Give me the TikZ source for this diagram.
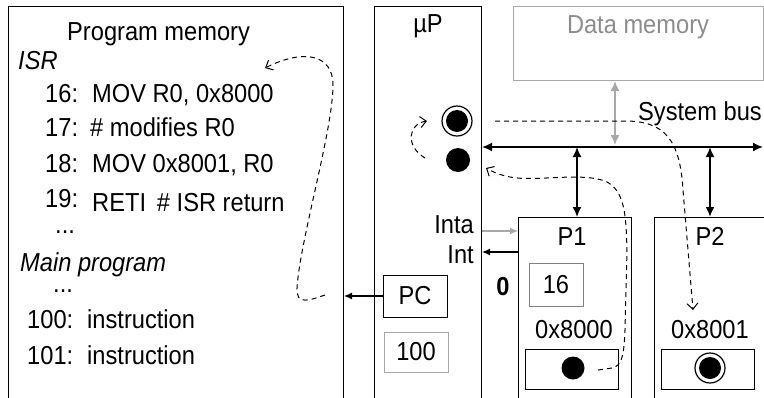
\documentclass[tikz,border=0pt]{standalone}
\usepackage{fontspec}
\setmainfont{Liberation Sans}[FakeStretch=0.91]
\usetikzlibrary{arrows.meta}
\definecolor{lgray}{HTML}{A8A8A8}
\definecolor{mgray}{HTML}{808080}
\definecolor{tgray}{HTML}{8C8C8C}
\tikzset{
  txt/.style={inner sep=0pt, font=\fontsize{26}{30}\selectfont},
  box/.style={draw, line width=1pt, inner sep=0pt, font=\fontsize{26}{30}\selectfont},
  dsh/.style={dash pattern=on 5pt off 4pt, line width=1pt},
  oarrow/.style={-{Straight Barb[length=6pt,width=11pt]}},
  fhead/.tip={Latex[length=10pt,width=9pt]},
  shead/.tip={Latex[length=8pt,width=7pt]}
}
\begin{document}
\begin{tikzpicture}[x=1pt,y=-1pt]
\useasboundingbox (0,0) rectangle (764,397);
\clip (0,0) rectangle (764,397);

% big boxes
\node[box, anchor=north west, minimum width=335pt, minimum height=420pt] (pm) at (8,6) {};
\node[box, anchor=north west, minimum width=107pt, minimum height=420pt] (up) at (374,6) {};
\node[box, draw=lgray, anchor=north west, minimum width=250pt, minimum height=74pt] (dm) at (513,6) {};
\node[box, anchor=north west, minimum width=113pt, minimum height=220pt] (p1) at (518,217) {};
\node[box, anchor=north west, minimum width=150pt, minimum height=220pt] (p2) at (654,217) {};

% small boxes
\node[box, draw=mgray, minimum width=54pt, minimum height=43pt] (b16) at (556,284.5) {16};
\node[box, minimum width=64pt, minimum height=42pt] (pc) at (415,296) {PC};
\node[box, draw=lgray, minimum width=64pt, minimum height=40pt] (b100) at (416,352) {100};
\node[box, minimum width=93pt, minimum height=40pt] (in1) at (571.5,369) {};
\node[box, minimum width=93pt, minimum height=40pt] (in2) at (707.5,369) {};

% dots
\node[circle, fill=black, inner sep=0pt, minimum size=23pt] (dot1) at (573,368) {};
\node[circle, draw, line width=1.2pt, inner sep=0pt, minimum size=30pt] (ring2) at (710,368) {};
\node[circle, fill=black, inner sep=0pt, minimum size=22pt] (dot2) at (710,368) {};
\node[circle, draw, line width=1.2pt, inner sep=0pt, minimum size=30pt] (ringP) at (457,121) {};
\node[circle, fill=black, inner sep=0pt, minimum size=22pt] (dotPa) at (457,121) {};
\node[circle, fill=black, inner sep=0pt, minimum size=24pt] (dotP) at (458,160) {};

% texts
\node[txt, anchor=base west] (tpm) at (67,40) {Program memory};
\node[txt, anchor=base west, font=\fontsize{26}{30}\selectfont\itshape] (tisr) at (18,69) {ISR};
\node[txt, anchor=base west] (n16) at (45,102) {16:};
\node[txt, anchor=base west] (i16) at (92,102) {MOV R0, 0x8000};
\node[txt, anchor=base west] (n17) at (45,136) {17:};
\node[txt, anchor=base west] (i17) at (90,136) {\# modifies R0};
\node[txt, anchor=base west] (n18) at (45,172) {18:};
\node[txt, anchor=base west] (i18) at (92,172) {MOV 0x8001, R0};
\node[txt, anchor=base west] (n19) at (45,207) {19:};
\node[txt, anchor=base west] (i19) at (92,211) {RETI\, \# ISR return};
\node[txt, anchor=base west] (d1) at (55,233) {...};
\node[txt, anchor=base west, font=\fontsize{26}{30}\selectfont\itshape] (tmain) at (20,271) {Main program};
\node[txt, anchor=base west] (d2) at (53,292) {...};
\node[txt, anchor=base west] (n100) at (27,328) {100:};
\node[txt, anchor=base west] (i100) at (87,328) {instruction};
\node[txt, anchor=base west] (n101) at (27,364) {101:};
\node[txt, anchor=base west] (i101) at (87,364) {instruction};

\node[txt, anchor=base] (tup) at (428,32) {µP};
\node[txt, anchor=base, text=tgray] (tdm) at (638,33) {Data memory};
\node[txt, anchor=base west] (tbus) at (638,120) {System bus};
\node[txt, anchor=base east] (tinta) at (474,233) {Inta};
\node[txt, anchor=base east] (tint) at (474,263) {Int};
\node[txt, anchor=base, font=\fontsize{26}{30}\selectfont\bfseries] (tzero) at (503,295) {0};
\node[txt, anchor=base] (tp1) at (572,245) {P1};
\node[txt, anchor=base] (tp2) at (710,245) {P2};
\node[txt, anchor=base] (ta1) at (574,338) {0x8000};
\node[txt, anchor=base] (ta2) at (710,338) {0x8001};

% bus
\coordinate (busY) at (0,147);
\coordinate (busR) at (763,147);
\coordinate (b1) at (577,147);
\coordinate (b2) at (710,147);
\coordinate (bm) at (615,145);
\draw[line width=1.6pt, fhead-fhead] (up.east |- busY) -- (busR);
\draw[line width=1.6pt, fhead-fhead] (b1) -- (b1 |- p1.north);
\draw[line width=2.4pt, fhead-fhead] (b2) -- (b2 |- p2.north);
\draw[lgray, line width=1.4pt, fhead-fhead] (bm |- dm.south) -- (bm);

% interrupt lines
\coordinate (yInta) at (0,231);
\coordinate (yInt) at (0,252);
\draw[lgray, line width=1.2pt, -shead] (up.east |- yInta) -- (p1.west |- yInta);
\draw[line width=1.2pt, -shead] (p1.west |- yInt) -- (up.east |- yInt);
\draw[line width=1.2pt, -shead] (pc.west) -- (pc.west -| pm.east);

% dashed curves
\coordinate (c1s) at (325,295);
\coordinate (c1e) at (265,68);
\draw[dsh, oarrow] (c1s) .. controls (310,300) and (296,306) .. (297,288)
   .. controls (300,240) and (333,130) .. (333,85)
   .. controls (333,55) and (305,48) .. (c1e);

\coordinate (c2s) at (425,158);
\coordinate (c2e) at (427,121);
\draw[dsh, oarrow] (c2s) .. controls (405,146) and (408,124) .. (c2e);

\coordinate (c3s) at (495,121);
\coordinate (c3e) at (693,310);
\draw[dsh, oarrow] (c3s) -- (625,121) .. controls (665,121) and (680,140) .. (683,190) -- (c3e);

\coordinate (c4s) at (598,370);
\coordinate (c4e) at (486,168);
\draw[dsh, oarrow] (c4s) -- (612,368) .. controls (622,366) and (624,355) .. (625,330)
   -- (627,250) .. controls (626,215) and (625,190) .. (605,181)
   .. controls (580,172) and (535,182) .. (510,177)
   .. controls (500,175) and (493,172) .. (c4e);
\end{tikzpicture}
\end{document}
